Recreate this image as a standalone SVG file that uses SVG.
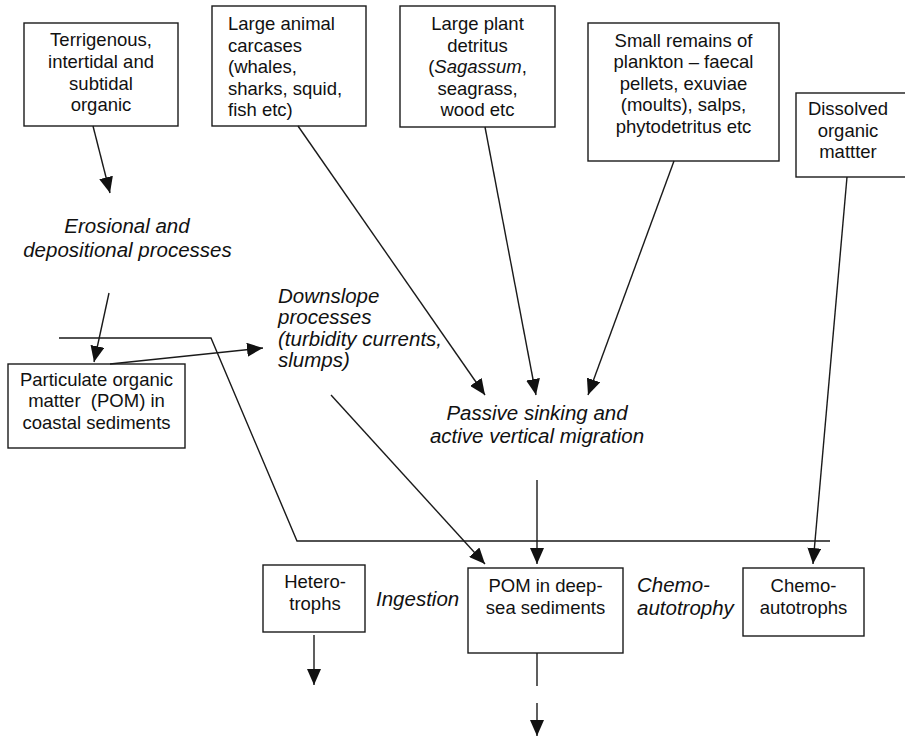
<svg xmlns="http://www.w3.org/2000/svg" width="905" height="737" viewBox="0 0 905 737">
  <style>
    .box { fill: #fff; stroke: #1a1a1a; stroke-width: 1.4; }
    .t { font-family: "Liberation Sans", Arial, sans-serif; font-size: 18.5px; fill: #111; }
    .c { text-anchor: middle; }
    .it { font-family: "Liberation Sans", Arial, sans-serif; font-size: 20.5px; font-style: italic; fill: #111; }
    .ln { fill: none; stroke: #1a1a1a; stroke-width: 1.4; }
    .arr { fill: none; stroke: #1a1a1a; stroke-width: 1.4; marker-end: url(#head); }
  </style>
  <defs>
    <marker id="head" markerUnits="userSpaceOnUse" markerWidth="17" markerHeight="14" refX="16" refY="7" orient="auto">
      <path d="M0,0 L16,7 L0,14 z" fill="#111"/>
    </marker>
  </defs>
  <rect width="905" height="737" fill="#fff"/>

  <g id="terrigenous">
    <rect class="box" x="24" y="23" width="154" height="103"/>
    <text class="t c" x="101" y="46">Terrigenous,</text>
    <text class="t c" x="101" y="68">intertidal and</text>
    <text class="t c" x="101" y="89.5">subtidal</text>
    <text class="t c" x="101" y="111">organic</text>
  </g>

  <g id="animal-carcases">
    <rect class="box" x="212" y="6" width="154" height="120"/>
    <text class="t" x="228" y="30">Large animal</text>
    <text class="t" x="228" y="51.5">carcases</text>
    <text class="t" x="228" y="73">(whales,</text>
    <text class="t" x="228" y="94.5">sharks, squid,</text>
    <text class="t" x="228" y="116">fish etc)</text>
  </g>

  <g id="plant-detritus">
    <rect class="box" x="400" y="6" width="155" height="121"/>
    <text class="t c" x="477.5" y="30">Large plant</text>
    <text class="t c" x="477.5" y="51.5">detritus</text>
    <text class="t c" x="477.5" y="73">(<tspan font-style="italic">Sagassum</tspan>,</text>
    <text class="t c" x="477.5" y="94.5">seagrass,</text>
    <text class="t c" x="477.5" y="116">wood etc</text>
  </g>

  <g id="plankton-remains">
    <rect class="box" x="588" y="23" width="191" height="138"/>
    <text class="t c" x="683.5" y="46.5">Small remains of</text>
    <text class="t c" x="683.5" y="68">plankton – faecal</text>
    <text class="t c" x="683.5" y="89.5">pellets, exuviae</text>
    <text class="t c" x="683.5" y="111">(moults), salps,</text>
    <text class="t c" x="683.5" y="132.5">phytodetritus etc</text>
  </g>

  <g id="dissolved">
    <rect class="box" x="796" y="93" width="120" height="84"/>
    <text class="t c" x="848" y="115">Dissolved</text>
    <text class="t c" x="848" y="136.5">organic</text>
    <text class="t c" x="848" y="158">mattter</text>
  </g>

  <g id="erosional">
    <text class="it c" x="127" y="233">Erosional and</text>
    <text class="it c" x="127.5" y="256.5">depositional processes</text>
  </g>

  <g id="coastal-pom">
    <rect class="box" x="8" y="364" width="177" height="84"/>
    <text class="t c" x="96.5" y="385.5">Particulate organic</text>
    <text class="t c" x="96.5" y="407" xml:space="preserve">matter  (POM) in</text>
    <text class="t c" x="96.5" y="428.5">coastal sediments</text>
  </g>

  <g id="downslope">
    <text class="it" x="278" y="302.5">Downslope</text>
    <text class="it" x="278" y="324">processes</text>
    <text class="it" x="278" y="345.5">(turbidity currents,</text>
    <text class="it" x="278" y="367">slumps)</text>
  </g>

  <g id="passive-sinking">
    <text class="it c" x="537" y="420">Passive sinking and</text>
    <text class="it c" x="537" y="443">active vertical migration</text>
  </g>

  <g id="heterotrophs">
    <rect class="box" x="263" y="565" width="102" height="67"/>
    <text class="t c" x="315" y="588">Hetero-</text>
    <text class="t c" x="315" y="610">trophs</text>
  </g>

  <g id="ingestion">
    <text class="it" x="376" y="606">Ingestion</text>
  </g>

  <g id="deep-sea-pom">
    <rect class="box" x="468" y="568" width="155" height="85"/>
    <text class="t c" x="545.5" y="592">POM in deep-</text>
    <text class="t c" x="545.5" y="613.5">sea sediments</text>
  </g>

  <g id="chemoautotrophy">
    <text class="it" x="637" y="592">Chemo-</text>
    <text class="it" x="637" y="615">autotrophy</text>
  </g>

  <g id="chemoautotrophs">
    <rect class="box" x="743" y="568" width="121" height="68"/>
    <text class="t c" x="803.5" y="592">Chemo-</text>
    <text class="t c" x="803.5" y="613.5">autotrophs</text>
  </g>

  <g id="connectors">
    <!-- shelf / slope / abyssal boundary -->
    <polyline class="ln" points="59,338 211,338 297,541 830,541"/>
    <line class="arr" x1="93" y1="126" x2="110" y2="193"/>
    <line class="arr" x1="109" y1="293" x2="94" y2="362"/>
    <line class="arr" x1="110" y1="364" x2="263" y2="348"/>
    <line class="arr" x1="298" y1="126" x2="485" y2="395"/>
    <line class="arr" x1="485" y1="127" x2="536" y2="395"/>
    <line class="arr" x1="674" y1="161" x2="588" y2="395"/>
    <line class="arr" x1="847" y1="177" x2="813" y2="564"/>
    <line class="arr" x1="331" y1="395" x2="485" y2="564"/>
    <line class="arr" x1="537" y1="480" x2="537" y2="564"/>
    <line class="arr" x1="314" y1="635" x2="314" y2="685"/>
    <line class="ln" x1="537" y1="653" x2="537" y2="686"/>
    <line class="arr" x1="537" y1="703" x2="537" y2="736"/>
  </g>
</svg>
